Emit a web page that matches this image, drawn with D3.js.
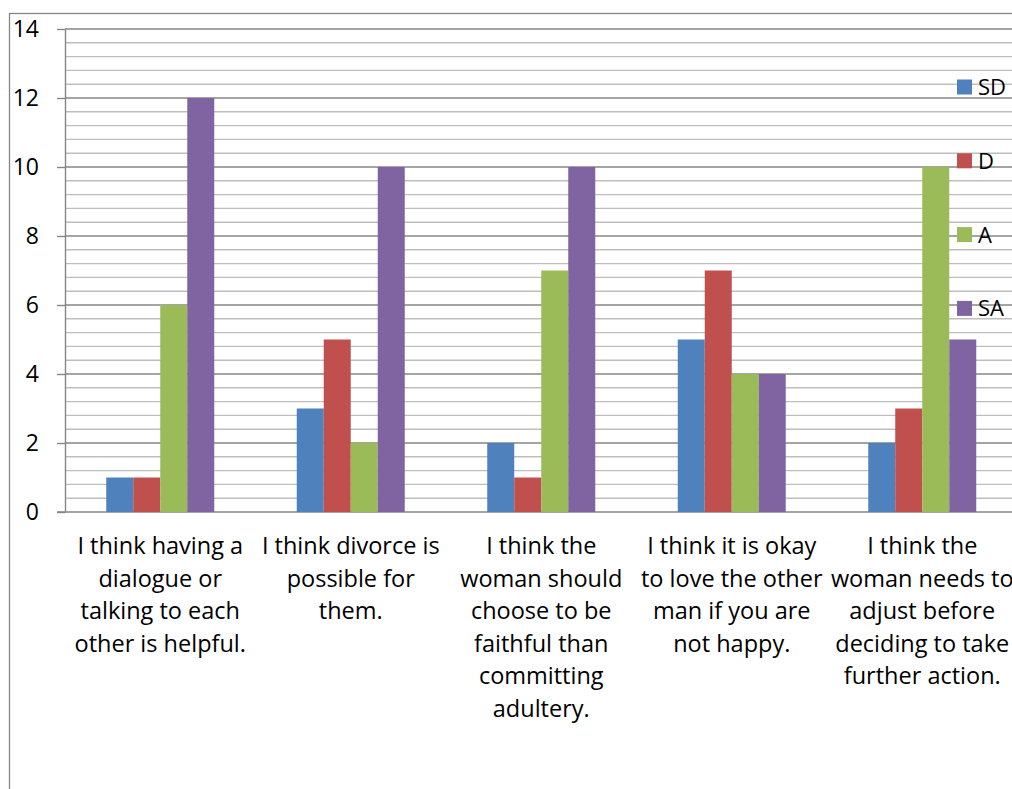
<!DOCTYPE html>
<html>
<head>
<meta charset="utf-8">
<script src="https://cdn.jsdelivr.net/npm/d3@7"></script>
<style>
  html, body { margin: 0; padding: 0; background: #fff; }
  svg { display: block; }
  text { font-family: "Open Sans", "Noto Sans", sans-serif; fill: #000; }
</style>
</head>
<body>
<svg id="chart" width="1012" height="789"></svg>
<script>
// Survey statements (category axis), wrapped as shown under each group
const categories = [
  ["I think having a", "dialogue or", "talking to each", "other is helpful."],
  ["I think divorce is", "possible for", "them."],
  ["I think the", "woman should", "choose to be", "faithful than", "committing", "adultery."],
  ["I think it is okay", "to love the other", "man if you are", "not happy."],
  ["I think the", "woman needs to", "adjust before", "deciding to take", "further action."]
];

// Response series
const seriesNames = ["SD", "D", "A", "SA"];
const sdValues = [1, 3, 2, 5, 2];
const dValues  = [1, 5, 1, 7, 3];
const aValues  = [6, 2, 7, 4, 10];
const saValues = [12, 10, 10, 4, 5];
const seriesColors = ["#4F81BD", "#C0504D", "#9BBB59", "#8064A2"];

// Value axis tick labels
const yTicks = [0, 2, 4, 6, 8, 10, 12, 14];

const seriesValues = [sdValues, dValues, aValues, saValues];

const svg = d3.select("#chart");

// Plot area geometry
const plotLeft = 65, plotTop = 29, plotBottom = 512, bandWidth = 190.5;
const plotRight = plotLeft + bandWidth * categories.length;

// Outer chart frame
svg.append("rect")
  .attr("x", 9.5).attr("y", 13.5)
  .attr("width", 1100).attr("height", 900)
  .attr("fill", "none").attr("stroke", "#868686").attr("stroke-width", 1.3);

const x = d3.scaleBand()
  .domain(d3.range(categories.length))
  .range([plotLeft, plotRight])
  .paddingInner(0).paddingOuter(0);

const y = d3.scaleLinear().domain([0, 14]).range([plotBottom, plotTop]);

// Minor gridlines (every 0.4)
const minor = d3.range(1, 35).map(i => i * 0.4).filter(v => Math.abs(v / 2 - Math.round(v / 2)) > 1e-6);
svg.append("g").selectAll("line").data(minor).join("line")
  .attr("x1", plotLeft).attr("x2", plotRight)
  .attr("y1", d => y(d)).attr("y2", d => y(d))
  .attr("stroke", "#BEBEBE").attr("stroke-width", 1.4);

// Major gridlines
svg.append("g").selectAll("line").data(yTicks.filter(v => v > 0)).join("line")
  .attr("x1", plotLeft).attr("x2", plotRight)
  .attr("y1", d => y(d)).attr("y2", d => y(d))
  .attr("stroke", "#868686").attr("stroke-width", 1.4);

// Value axis with tick marks and labels
const yAxis = svg.append("g")
  .attr("transform", `translate(${plotLeft},0)`)
  .call(d3.axisLeft(y).tickValues(yTicks).tickSize(8).tickPadding(18).tickSizeOuter(0));
yAxis.select(".domain").attr("stroke", "#868686").attr("stroke-width", 1.4);
yAxis.selectAll(".tick line").attr("stroke", "#868686").attr("stroke-width", 1.4);
yAxis.selectAll(".tick text")
  .style("font-family", "'Open Sans', sans-serif")
  .style("font-size", "23px").attr("fill", "#000");

// Category axis baseline
svg.append("line")
  .attr("x1", plotLeft - 8).attr("x2", plotRight)
  .attr("y1", plotBottom).attr("y2", plotBottom)
  .attr("stroke", "#868686").attr("stroke-width", 1.4);

// Bars
const barW = 27;
const inner = d3.scaleBand()
  .domain(seriesNames)
  .range([0, barW * seriesNames.length]);
const groupOffset = (bandWidth - barW * seriesNames.length) / 2;

const groups = svg.append("g").selectAll("g").data(categories).join("g")
  .attr("transform", (d, i) => `translate(${x(i) + groupOffset},0)`);

groups.selectAll("rect")
  .data((d, i) => seriesNames.map((s, k) => ({ s, k, v: seriesValues[k][i] })))
  .join("rect")
  .attr("x", d => inner(d.s))
  .attr("width", inner.bandwidth())
  .attr("y", d => y(d.v))
  .attr("height", d => y(0) - y(d.v))
  .attr("fill", d => seriesColors[d.k]);

// Category labels
const labels = svg.append("g").selectAll("text").data(categories).join("text")
  .attr("text-anchor", "middle")
  .style("font-size", "23.5px");
labels.each(function (lines, i) {
  d3.select(this).selectAll("tspan").data(lines).join("tspan")
    .attr("x", x(i) + bandWidth / 2)
    .attr("y", (d, j) => 554 + j * 32.5)
    .text(d => d);
});

// Legend
const legend = svg.append("g").selectAll("g").data(seriesNames).join("g")
  .attr("transform", (d, i) => `translate(957,${87 + i * 73.8})`);
legend.append("rect")
  .attr("x", 0).attr("y", -7.5).attr("width", 15).attr("height", 15)
  .attr("fill", (d, i) => seriesColors[i]);
legend.append("text")
  .attr("x", 21).attr("y", 8)
  .style("font-size", "22px")
  .text(d => d);
</script>
</body>
</html>
